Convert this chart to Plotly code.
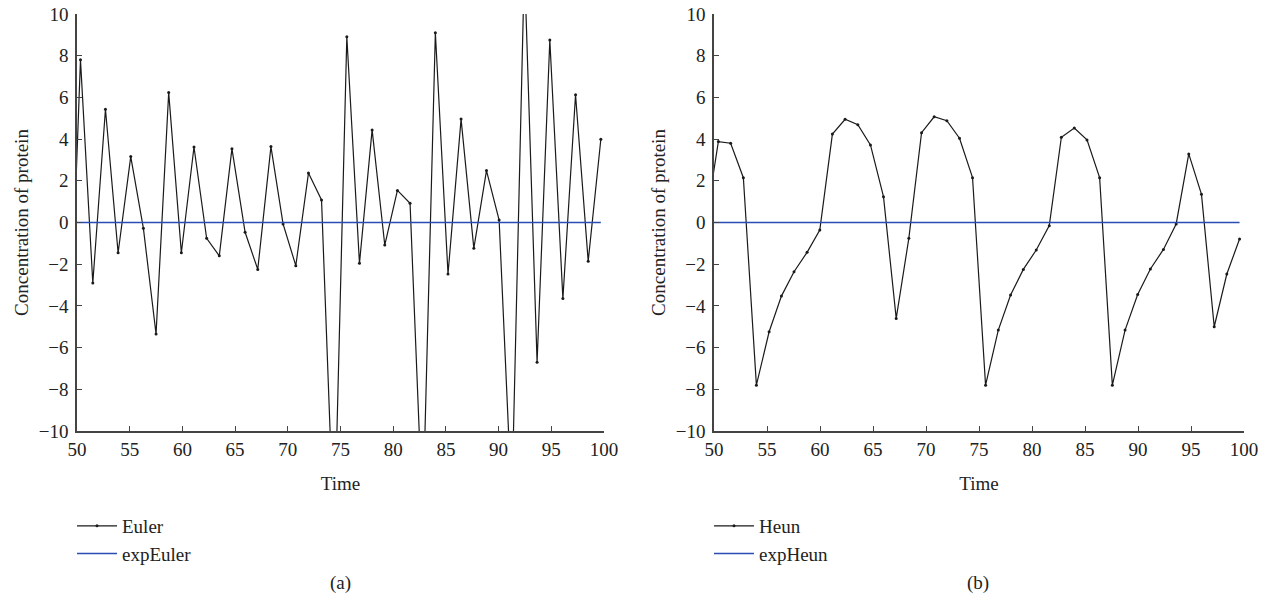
import plotly.graph_objects as go

# ---- data ----
euler_t = [49.13, 50.33, 51.5, 52.7, 53.9, 55.1, 56.3, 57.5, 58.7, 59.9, 61.1, 62.3, 63.5,
           64.7, 65.95, 67.15, 68.4, 69.55, 70.76, 71.96, 73.2, 74.4, 75.6, 76.8, 78.0,
           79.2, 80.4, 81.6, 82.8, 84.0, 85.2, 86.44, 87.65, 88.85, 90.05, 91.25, 92.45,
           93.65, 94.86, 96.1, 97.3, 98.5, 99.7]
euler_y = [-8.6, 7.8, -2.9, 5.43, -1.45, 3.16, -0.28, -5.35, 6.23, -1.45, 3.62, -0.76, -1.6,
           3.54, -0.47, -2.25, 3.64, -0.07, -2.07, 2.37, 1.08, -15.3, 8.91, -1.96, 4.44,
           -1.08, 1.54, 0.92, -14.2, 9.1, -2.47, 4.96, -1.24, 2.49, 0.12, -13.5, 12.4,
           -6.7, 8.75, -3.65, 6.13, -1.86, 3.99]
exp_euler_y = [0.0] * len(euler_t)

heun_t = [49.21, 50.41, 51.57, 52.77, 54.0, 55.2, 56.36, 57.55, 58.78, 59.98, 61.17, 62.37,
          63.57, 64.76, 65.99, 67.19, 68.38, 69.58, 70.77, 71.97, 73.16, 74.39, 75.62,
          76.82, 77.98, 79.18, 80.4, 81.63, 82.77, 83.99, 85.19, 86.38, 87.58, 88.78,
          89.97, 91.17, 92.4, 93.6, 94.79, 95.99, 97.19, 98.38, 99.58]
heun_y = [-0.05, 3.88, 3.8, 2.15, -7.8, -5.24, -3.53, -2.36, -1.43, -0.36, 4.24, 4.95,
          4.69, 3.72, 1.24, -4.6, -0.76, 4.31, 5.07, 4.88, 4.04, 2.15, -7.8,
          -5.16, -3.48, -2.25, -1.32, -0.15, 4.09, 4.53, 3.96, 2.15, -7.8, -5.16,
          -3.45, -2.23, -1.29, -0.07, 3.29, 1.35, -5.0, -2.47, -0.79]
exp_heun_y = [0.0] * len(heun_t)

x_ticks = [50, 55, 60, 65, 70, 75, 80, 85, 90, 95, 100]
y_ticks = [-10, -8, -6, -4, -2, 0, 2, 4, 6, 8, 10]

FONT = "Liberation Serif"
FS = 19
BLACK = "#1a1a1a"
BLUE = "#2b4cb3"
AXC = "#444444"
TXT = "#222222"

W, H = 1273, 609
fig = go.Figure()

fig.add_trace(go.Scatter(x=euler_t, y=euler_y, mode="lines+markers", name="Euler",
                         line=dict(color=BLACK, width=1.2),
                         marker=dict(color=BLACK, size=3),
                         xaxis="x", yaxis="y", legend="legend"))
fig.add_trace(go.Scatter(x=euler_t, y=exp_euler_y, mode="lines", name="expEuler",
                         line=dict(color=BLUE, width=1.5),
                         xaxis="x", yaxis="y", legend="legend"))
fig.add_trace(go.Scatter(x=heun_t, y=heun_y, mode="lines+markers", name="Heun",
                         line=dict(color=BLACK, width=1.2),
                         marker=dict(color=BLACK, size=3),
                         xaxis="x2", yaxis="y2", legend="legend2"))
fig.add_trace(go.Scatter(x=heun_t, y=exp_heun_y, mode="lines", name="expHeun",
                         line=dict(color=BLUE, width=1.5),
                         xaxis="x2", yaxis="y2", legend="legend2"))

ydom = [1 - 431 / H, 1 - 14 / H]
xdom1 = [77 / W, 604 / W]
xdom2 = [714 / W, 1244 / W]

def xaxis(dom, anchor):
    return dict(domain=dom, anchor=anchor, range=[50, 100], tickvals=x_ticks,
                showline=True, linecolor=AXC, linewidth=1.5, ticks="inside",
                ticklen=5, tickcolor=AXC, tickwidth=1.2, showgrid=False, zeroline=False,
                tickfont=dict(family=FONT, size=FS, color=TXT),
                title=dict(text="Time", font=dict(family=FONT, size=FS, color=TXT),
                           standoff=18))

def yaxis(anchor):
    return dict(domain=ydom, anchor=anchor, range=[-10, 10], tickvals=y_ticks,
                showline=True, linecolor=AXC, linewidth=1.5, ticks="inside",
                ticklen=5, tickcolor=AXC, tickwidth=1.2, showgrid=False, zeroline=False,
                ticklabelstandoff=3,
                tickfont=dict(family=FONT, size=FS, color=TXT),
                title=dict(text="Concentration of protein",
                           font=dict(family=FONT, size=FS, color=TXT), standoff=5))

leg = dict(bgcolor="rgba(0,0,0,0)", font=dict(family=FONT, size=FS, color=TXT),
           xanchor="left", yanchor="top", tracegroupgap=0, itemwidth=40)

fig.update_layout(
    width=W, height=H, margin=dict(l=0, r=0, t=0, b=0, autoexpand=False),
    paper_bgcolor="white", plot_bgcolor="white",
    xaxis=xaxis(xdom1, "y"), yaxis=yaxis("x"),
    xaxis2=xaxis(xdom2, "y2"), yaxis2=yaxis("x2"),
    legend=dict(leg, x=72 / W, y=1 - 507 / H),
    legend2=dict(leg, x=709 / W, y=1 - 507 / H),
    annotations=[
        dict(text="(a)", x=340 / W, y=1 - 583 / H, xref="paper", yref="paper",
             xanchor="center", yanchor="middle",
             showarrow=False, font=dict(family=FONT, size=FS, color=TXT)),
        dict(text="(b)", x=978 / W, y=1 - 583 / H, xref="paper", yref="paper",
             xanchor="center", yanchor="middle",
             showarrow=False, font=dict(family=FONT, size=FS, color=TXT)),
    ],
)

fig.write_html("out.html")
